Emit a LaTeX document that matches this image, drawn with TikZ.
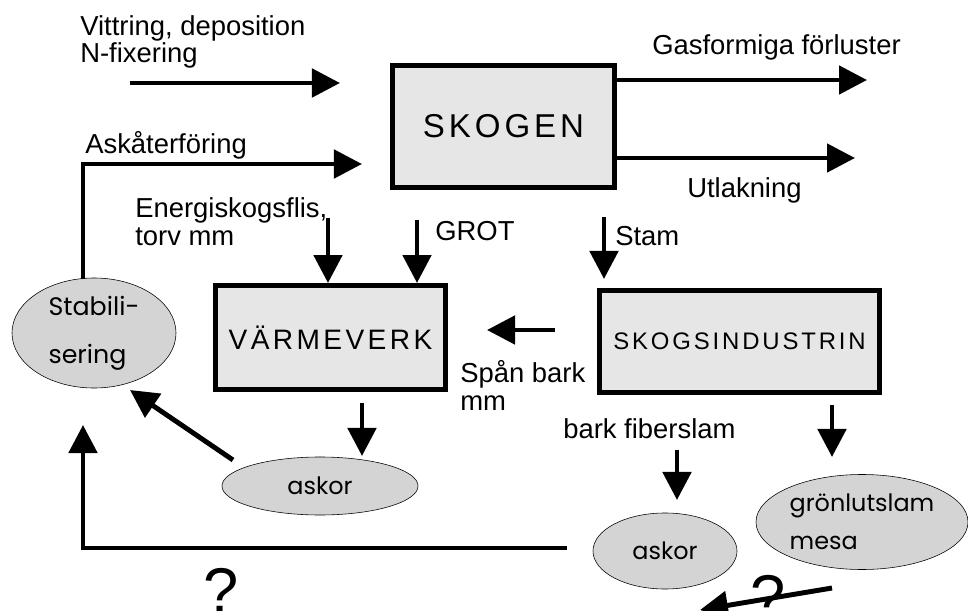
\documentclass[tikz,border=0pt]{standalone}
\usepackage{fontspec}
\setmainfont{Liberation Sans}
\newfontfamily\boxfont[LetterSpace=12]{Liberation Sans}
\newfontfamily\blobfont{Poppins}
\usetikzlibrary{arrows.meta,shapes.geometric}
\definecolor{BoxGray}{HTML}{E6E6E6}
\definecolor{BlobGray}{HTML}{D4D4D4}

\begin{document}
\begin{tikzpicture}[x=0.025cm,y=-0.025cm,
  >={Triangle[length=0.7cm,width=0.7cm]},
  font=\fontsize{19.5}{19.5}\selectfont,
  flow/.style={->,line width=3.5pt},
  unit/.style={draw,line width=3.5pt,fill=BoxGray,inner sep=0pt},
  blob/.style={ellipse,draw,thin,fill=BlobGray,inner sep=0pt,align=left},
  lbl/.style={inner sep=0pt,align=left,anchor=base west},
  query/.style={inner sep=0pt,anchor=base,font=\fontsize{45}{45}\selectfont}]
  \useasboundingbox (0,0) rectangle (968,611);

  \node[unit,minimum width=5.55cm,minimum height=3.05cm,
    font=\boxfont\fontsize{23.5}{23.5}\selectfont] (skogen) at (503.5,126.5) {SKOGEN};
  \node[unit,minimum width=5.75cm,minimum height=2.6cm,
    font=\boxfont\fontsize{20}{20}\selectfont] (varme) at (330.5,337.5) {VÄRMEVERK};
  \node[unit,minimum width=7cm,minimum height=2.55cm,
    font=\boxfont\fontsize{17}{17}\selectfont] (industri) at (739.5,341.5) {SKOGSINDUSTRIN};

  \node[blob,minimum width=4.1cm,minimum height=2.75cm,
    font=\blobfont\fontsize{18}{34}\selectfont] (stab) at (94,333) {Stabili-\\sering};
  \node[blob,minimum width=4.9cm,minimum height=1.45cm,
    font=\blobfont\fontsize{17}{17}\selectfont] (askA) at (320,486) {askor};
  \node[blob,minimum width=3.6cm,minimum height=1.9cm,
    font=\blobfont\fontsize{17}{17}\selectfont] (askB) at (665,551) {askor};
  \node[blob,minimum width=5.3cm,minimum height=2.375cm,
    font=\blobfont\fontsize{17}{27}\selectfont] (gron) at (862,522) {grönlutslam\\mesa};

  \node[lbl] (vittring) at (80,63) {Vittring, deposition\\N-fixering};
  \node[lbl] (askret) at (85,153) {Askåterföring};
  \node[lbl] (gas) at (652,55) {Gasformiga förluster};
  \node[lbl] (utlak) at (687,197) {Utlakning};
  \node[lbl] (energi) at (135,245) {Energiskogsflis,\\torv mm};
  \node[lbl] (grot) at (435,240) {GROT};
  \node[lbl] (stam) at (615,245) {Stam};
  \node[lbl] (span) at (460,410) {Spån bark\\mm};
  \node[lbl] (fiber) at (563,438) {bark fiberslam};
  \node[query] (fragaA) at (221,612) {?};
  \node[query] (fragaB) at (768,619) {?};

  \coordinate (vitA) at (130,83);
  \coordinate (vitB) at (340,83);
  \coordinate (retA) at (83,279);
  \coordinate (retB) at (362,164);
  \coordinate (gasB) at (867,80);
  \coordinate (utB) at (855,158);
  \coordinate (energiA) at (328,218);
  \coordinate (grotA) at (417,220);
  \coordinate (stamA) at (604,217);
  \coordinate (stamB) at (604,279);
  \coordinate (spanA) at (555,330);
  \coordinate (spanB) at (487,330);
  \coordinate (varmeA) at (362,403);
  \coordinate (varmeB) at (362,456);
  \coordinate (askA1) at (233,460);
  \coordinate (askA2) at (130,390);
  \coordinate (botA) at (567,548);
  \coordinate (botB) at (83,425);
  \coordinate (indA) at (832,405);
  \coordinate (indB) at (832,457);
  \coordinate (fiberA) at (677,450);
  \coordinate (fiberB) at (677,500);
  \coordinate (mesaA) at (832,588);
  \coordinate (mesaB) at (700,610);

  \draw[flow] (vitA) -- (vitB);
  \draw[flow] (retA) |- (retB);
  \draw[flow] (skogen.east |- gasB) -- (gasB);
  \draw[flow] (skogen.east |- utB) -- (utB);
  \draw[flow] (energiA) -- (energiA |- varme.north);
  \draw[flow] (grotA) -- (grotA |- varme.north);
  \draw[flow] (stamA) -- (stamB);
  \draw[flow] (spanA) -- (spanB);
  \draw[flow] (varmeA) -- (varmeB);
  \draw[flow] (askA1) -- (askA2);
  \draw[flow] (botA) -| (botB);
  \draw[flow] (indA) -- (indB);
  \draw[flow] (fiberA) -- (fiberB);
  \draw[flow] (mesaA) -- (mesaB);
\end{tikzpicture}
\end{document}
